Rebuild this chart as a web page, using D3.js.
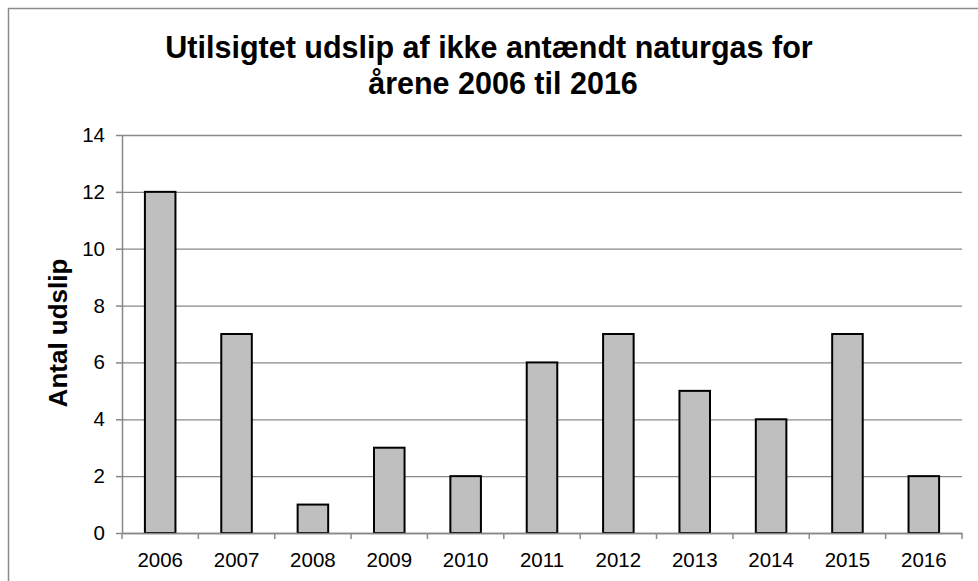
<!DOCTYPE html>
<html>
<head>
<meta charset="utf-8">
<script src="https://cdn.jsdelivr.net/npm/d3@7"></script>
<style>
  body { margin: 0; background: #fff; }
  text { font-family: "Liberation Sans", Arial, sans-serif; fill: #000; }
  .axis path, .axis line { stroke: #888; }
</style>
</head>
<body>
<div id="chart"></div>
<script>
// chart values
var years = ["2006", "2007", "2008", "2009", "2010", "2011", "2012", "2013", "2014", "2015", "2016"];
var counts = [12, 7, 1, 3, 2, 6, 7, 5, 4, 7, 2];
var yTicks = [0, 2, 4, 6, 8, 10, 12, 14];
var titleLines = ["Utilsigtet udslip af ikke antændt naturgas for", "årene 2006 til 2016"];
var yLabel = "Antal udslip";

var svgWidth = 978;
var svgHeight = 581;

// plot area
var plot = { left: 122, right: 962, top: 135, bottom: 533 };

var svg = d3.select("#chart")
  .append("svg")
  .attr("width", svgWidth)
  .attr("height", svgHeight);

// outer frame of the chart (runs off the right and bottom edge)
svg.append("rect")
  .attr("x", 8.5)
  .attr("y", 8.5)
  .attr("width", 1000)
  .attr("height", 700)
  .attr("fill", "none")
  .attr("stroke", "#8c8c8c")
  .attr("stroke-width", 1.5);

var x = d3.scaleBand()
  .domain(years)
  .range([plot.left, plot.right])
  .padding(0);

var y = d3.scaleLinear()
  .domain([0, 14])
  .range([plot.bottom, plot.top]);

// gridlines
svg.append("g")
  .attr("class", "axis grid")
  .attr("transform", `translate(${plot.left},0)`)
  .call(d3.axisLeft(y).tickValues(yTicks).tickSize(-(plot.right - plot.left)).tickFormat(""))
  .call(g => g.select(".domain").remove())
  .selectAll("line").attr("stroke", "#8c8c8c").attr("stroke-width", 1.3);

// y axis
svg.append("g")
  .attr("class", "axis")
  .attr("transform", `translate(${plot.left},0)`)
  .call(d3.axisLeft(y).tickValues(yTicks).tickSize(6).tickPadding(11).tickSizeOuter(0))
  .call(g => g.selectAll("path, line").attr("stroke", "#8c8c8c").attr("stroke-width", 1.5))
  .call(g => g.selectAll("text").style("font-size", "20.5px"));

// bars
var barFrac = 0.4;
svg.append("g")
  .selectAll("rect")
  .data(years)
  .enter()
  .append("rect")
  .attr("x", (d) => x(d) + x.bandwidth() * (1 - barFrac) / 2)
  .attr("y", (d, i) => y(counts[i]))
  .attr("width", x.bandwidth() * barFrac)
  .attr("height", (d, i) => y(0) - y(counts[i]))
  .attr("fill", "#bfbfbf")
  .attr("stroke", "#000")
  .attr("stroke-width", 2);

// x axis with labels
svg.append("g")
  .attr("class", "axis")
  .attr("transform", `translate(0,${plot.bottom})`)
  .call(d3.axisBottom(x).tickSize(0).tickPadding(19).tickSizeOuter(0))
  .call(g => g.select(".domain").attr("stroke", "#8c8c8c").attr("stroke-width", 1.5))
  .call(g => g.selectAll("text").style("font-size", "20.5px"));

// tick marks between categories
var bounds = years.map((d) => x(d)).concat([plot.right]);
svg.append("g")
  .selectAll("line")
  .data(bounds)
  .enter()
  .append("line")
  .attr("x1", (d) => d)
  .attr("x2", (d) => d)
  .attr("y1", plot.bottom)
  .attr("y2", plot.bottom + 6)
  .attr("stroke", "#8c8c8c")
  .attr("stroke-width", 1.5);

// title
svg.append("g")
  .selectAll("text")
  .data(titleLines)
  .enter()
  .append("text")
  .attr("x", (d, i) => i === 0 ? 489 : 503)
  .attr("y", (d, i) => 58 + i * 36)
  .attr("text-anchor", "middle")
  .style("font-size", "30.5px")
  .style("font-weight", "bold")
  .text((d) => d);

// y axis title
svg.append("text")
  .attr("transform", "translate(67,333) rotate(-90)")
  .attr("text-anchor", "middle")
  .style("font-size", "26px")
  .style("font-weight", "bold")
  .text(yLabel);
</script>
</body>
</html>
